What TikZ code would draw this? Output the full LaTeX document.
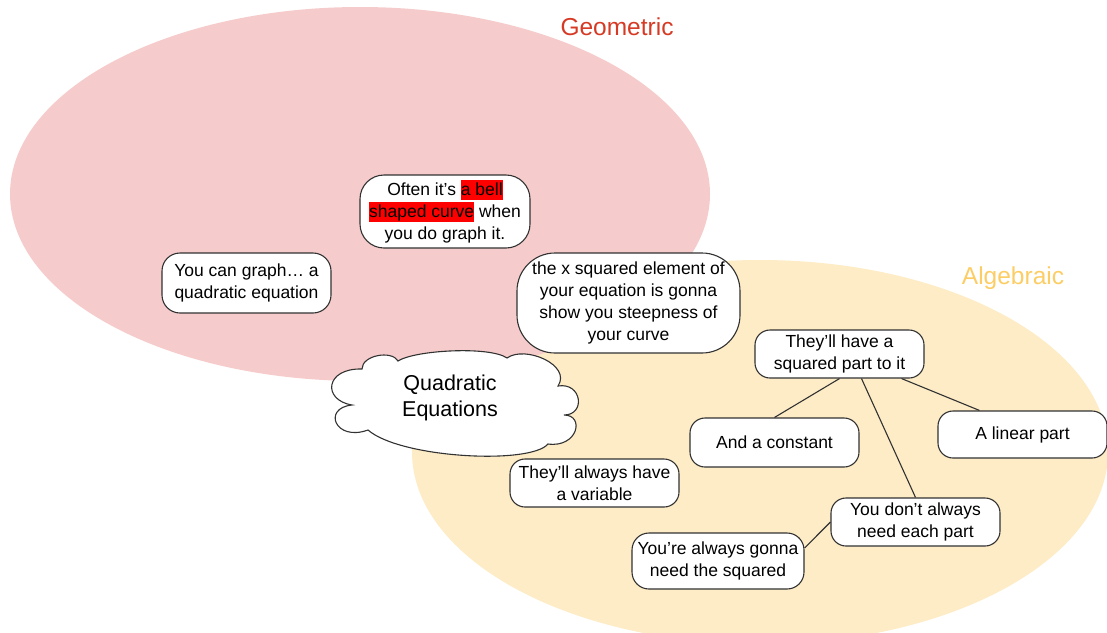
\documentclass[tikz,border=0pt]{standalone}
\usepackage{fontspec}
\setmainfont{Liberation Sans}
\definecolor{pinkfill}{RGB}{245,204,203}
\definecolor{yellowfill}{RGB}{253,236,198}
\definecolor{geomred}{RGB}{214,58,36}
\definecolor{algyellow}{RGB}{252,205,100}
\definecolor{edgecol}{RGB}{50,50,50}
\newcommand{\hlred}[1]{{\setlength{\fboxsep}{0pt}\colorbox{red}{\rule[-4.5pt]{0pt}{19.5pt}#1}}}
\begin{document}
\begin{tikzpicture}[x=1pt,y=1pt,
  box/.style={draw=edgecol, line width=1.1pt, fill=white, rounded corners=#1,
    align=center, inner sep=0pt, font=\fontsize{17.5}{22}\selectfont, text=black},
  box/.default=15pt,
  conn/.style={draw=edgecol, line width=1.1pt},
  title/.style={font=\fontsize{24.5}{28}\selectfont, inner sep=0pt}]
\useasboundingbox (0,0) rectangle (1107,-632);
\clip (0,0) rectangle (1107,-632);
\fill[yellowfill] (760,-452) ellipse [x radius=348pt, y radius=192pt];
\fill[pinkfill] (360,-194) ellipse [x radius=350pt, y radius=187pt];

\node[title, text=geomred] (geo) at (617,-27) {Geometric};
\node[title, text=algyellow] (alg) at (1013,-278) {Algebraic};

\node[box=24pt, minimum width=170pt, minimum height=73pt] (bell) at (445,-211.5)
  {Often it’s \hlred{a bell}\\\hlred{shaped curve} when\\you do graph it.};
\node[box=38pt, minimum width=223pt, minimum height=100pt] (xsq) at (628.5,-303)
  {the x squared element of\\your equation is gonna\\show you steepness of\\your curve};
\node[box=18pt, minimum width=169pt, minimum height=60pt] (graph) at (246.5,-283)
  {You can graph… a\\quadratic equation};
\node[box, minimum width=169pt, minimum height=48pt] (sq) at (839.5,-354)
  {They’ll have a\\squared part to it};
\node[box, minimum width=169pt, minimum height=49pt] (const) at (774.5,-442.5)
  {And a constant};
\node[box, minimum width=169pt, minimum height=47pt] (linear) at (1022.5,-434.5)
  {A linear part};
\node[box, minimum width=169pt, minimum height=48pt] (dont) at (915.5,-522)
  {You don’t always\\need each part};
\node[box=17pt, minimum width=172pt, minimum height=56pt] (always) at (718,-561)
  {You’re always gonna\\need the squared};
\node[box, minimum width=169pt, minimum height=48pt] (variable) at (594.5,-483)
  {They’ll always have\\a variable};

% cloud
\draw[draw=edgecol, line width=1.1pt, fill=white]
  (362,-369) .. controls (362,-355) and (392,-350) .. (398,-361)
  .. controls (415,-350) and (490,-346) .. (507,-358)
  .. controls (525,-345) and (572,-365) .. (558,-386)
  .. controls (582,-382) and (586,-415) .. (564,-415)
  .. controls (585,-415) and (578,-448) .. (548,-444)
  .. controls (530,-465) and (400,-458) .. (368,-430)
  .. controls (335,-442) and (322,-408) .. (352,-405)
  .. controls (322,-400) and (325,-368) .. (362,-369) -- cycle;
\node[align=center, inner sep=0pt, font=\fontsize{21.5}{26}\selectfont]
  (quad) at (450,-398) {Quadratic\\Equations};

\draw[conn] (sq.south) -- (const.north);
\draw[conn] ([xshift=22pt]sq.south) -- (dont.north);
\draw[conn] ([xshift=62pt]sq.south) -- ([xshift=-43pt]linear.north);
\draw[conn] (dont.west) -- ([yshift=13pt]always.east);
\end{tikzpicture}
\end{document}
